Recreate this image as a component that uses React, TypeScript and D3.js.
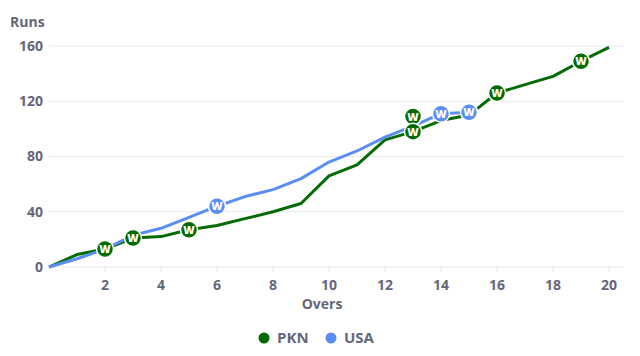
import React from "react";
import * as d3 from "d3";

const overs = [0, 1, 2, 3, 4, 5, 6, 7, 8, 9, 10, 11, 12, 13, 14, 15, 16, 17, 18, 19, 20];
const pknRuns = [0, 9, 13, 21, 22, 27, 30, 35, 40, 46, 66, 74, 92, 98, 106, 110, 126, 132, 138, 149, 159];
const usaRuns = [0, 6, 13, 23, 28, 36, 44, 51, 56, 64, 76, 84, 94, 102, 111, 112];
const pknWickets: [number, number][] = [[2, 13], [3, 21], [5, 27], [13, 109], [13, 98], [16, 126], [19, 149]];
const usaWickets: [number, number][] = [[6, 44], [14, 111], [15, 112]];
const yTicks = [0, 40, 80, 120, 160];
const xTicks = [2, 4, 6, 8, 10, 12, 14, 16, 18, 20];
const seriesNames = ["PKN", "USA"];

const W = 640, H = 356;
const GREEN = "#036b03";
const BLUE = "#5b8ef2";
const TXT = "#66667a";
const FONT = "'Open Sans', 'Noto Sans', sans-serif";

export default function App() {
  const x = d3.scaleLinear().domain([0, 20]).range([49, 609]);
  const y = d3.scaleLinear().domain([0, 160]).range([267, 46]);
  const line = d3.line<[number, number]>().x(d => x(d[0])).y(d => y(d[1]));
  const pkn = pknRuns.map((r, i) => [overs[i], r] as [number, number]);
  const usa = usaRuns.map((r, i) => [overs[i], r] as [number, number]);
  const colors = [GREEN, BLUE];

  const marker = (w: [number, number], color: string, k: string) => (
    <g key={k} transform={`translate(${x(w[0])},${y(w[1])})`}>
      <circle r={8.5} fill={color} stroke="#ffffff" strokeWidth={1.5} />
      <text textAnchor="middle" dy="0.37em" fill="#ffffff" fontSize={11} fontWeight={800} fontFamily={FONT}>W</text>
    </g>
  );

  return (
    <svg width={W} height={H} style={{ position: "absolute", left: 0, top: 0, background: "#fff" }}>
      {yTicks.map(t => (
        <line key={"g" + t} x1={49} x2={624} y1={y(t)} y2={y(t)} stroke="#e9e9ec" strokeWidth={1} />
      ))}
      {xTicks.map(t => (
        <line key={"xt" + t} x1={x(t)} x2={x(t)} y1={267} y2={272} stroke="#e1e1e5" strokeWidth={1} />
      ))}
      {yTicks.map(t => (
        <text key={"yl" + t} x={43} y={y(t)} dy="0.35em" textAnchor="end" fill={TXT} fontSize={14} fontWeight={700} fontFamily={FONT}>{t}</text>
      ))}
      {xTicks.map(t => (
        <text key={"xl" + t} x={x(t)} y={285} dy="0.35em" textAnchor="middle" fill={TXT} fontSize={14} fontWeight={700} fontFamily={FONT}>{t}</text>
      ))}
      <text x={10} y={27} fill={TXT} fontSize={14} fontWeight={700} fontFamily={FONT}>Runs</text>
      <text x={322} y={304} dy="0.35em" textAnchor="middle" fill={TXT} fontSize={14} fontWeight={700} fontFamily={FONT}>Overs</text>

      <path d={line(pkn) || ""} fill="none" stroke={GREEN} strokeWidth={3} strokeLinejoin="round" />
      <path d={line(usa) || ""} fill="none" stroke={BLUE} strokeWidth={3} strokeLinejoin="round" />
      {pknWickets.map((w, i) => marker(w, GREEN, "pw" + i))}
      {usaWickets.map((w, i) => marker(w, BLUE, "uw" + i))}

      {seriesNames.map((n, i) => (
        <g key={n} transform={`translate(${264 + i * 67},338)`}>
          <circle r={5.5} fill={colors[i]} />
          <text x={13} dy="0.35em" fill={TXT} fontSize={15} fontWeight={700} fontFamily={FONT}>{n}</text>
        </g>
      ))}
    </svg>
  );
}
